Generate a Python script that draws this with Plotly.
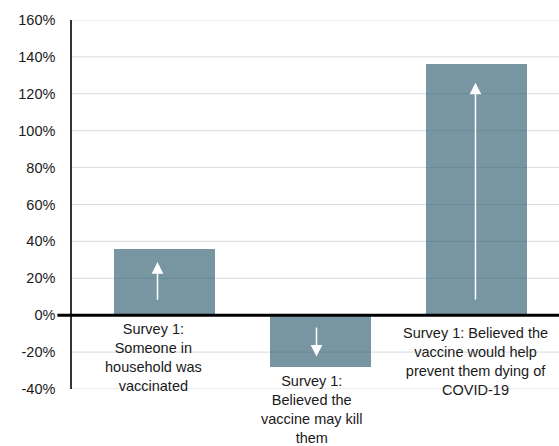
import plotly.graph_objects as go

# Change in likelihood of vaccine uptake by survey response
categories = [
    "Survey 1:<br>Someone in<br>household was<br>vaccinated",
    "Survey 1:<br>Believed the<br>vaccine may kill<br>them",
    "Survey 1: Believed the<br>vaccine would help<br>prevent them dying of<br>COVID-19",
]
values = [36, -28, 136]
tick_values = [-40, -20, 0, 20, 40, 60, 80, 100, 120, 140, 160]
tick_labels = [f"{v}%" for v in tick_values]

BAR = "#7896a2"
GRID = "rgba(60,95,115,0.22)"
FONT = "Liberation Sans, Arial, sans-serif"

x = list(range(len(values)))

fig = go.Figure(
    go.Bar(x=x, y=values, width=0.65, marker=dict(color=BAR, line_width=0),
           hoverinfo="skip")
)

shapes = []
# horizontal grid drawn over the bars
for v in tick_values:
    if v == 0:
        continue
    shapes.append(dict(type="line", xref="paper", x0=0, x1=1, yref="y", y0=v, y1=v,
                       line=dict(color=GRID, width=1), layer="above"))
# heavy zero baseline running past the axis
shapes.append(dict(type="line", xref="paper", x0=-0.03, x1=1, yref="y", y0=0, y1=0,
                   line=dict(color="#000000", width=3), layer="above"))

annotations = []
label_dx = [-11, -8, -1]
label_dy = [-4, -4, -8]
arrow_dx = [-7, -4, -1]
for i, v in enumerate(values):
    s = 1 if v > 0 else -1
    tail = s * min(0.21 * abs(v), 7.7)
    tip = v - s * min(max(0.2 * abs(v), 5.5), 10)
    annotations.append(dict(
        x=i, y=tip, ax=i, ay=tail, xref="x", yref="y", axref="x", ayref="y",
        text="", showarrow=True, arrowhead=2, arrowsize=1.55, arrowwidth=1.5,
        arrowcolor="#ffffff", xshift=arrow_dx[i]))
    # category label sits under the baseline, or under a negative bar
    base = min(v, 0)
    annotations.append(dict(
        x=i, y=base, xref="x", yref="y", text=categories[i], showarrow=False,
        yanchor="top", xanchor="center", align="center", yshift=label_dy[i],
        xshift=label_dx[i], font=dict(family=FONT, size=14.5, color="#1a1a1a")))

fig.update_layout(
    width=559, height=446,
    margin=dict(l=72, r=0, t=20, b=57),
    paper_bgcolor="#ffffff", plot_bgcolor="#ffffff",
    showlegend=False,
    bargap=0,
    shapes=shapes,
    annotations=annotations,
    xaxis=dict(range=[-0.593, 2.529], showticklabels=False, showgrid=False,
               zeroline=False, showline=False, fixedrange=True),
    yaxis=dict(range=[-40, 160], tickvals=tick_values, ticktext=tick_labels,
               showgrid=False, zeroline=False, showline=True, linecolor="#333333",
               linewidth=1.5, ticks="", ticklabelstandoff=12,
               tickfont=dict(family=FONT, size=14.5, color="#1a1a1a"),
               fixedrange=True),
)

fig.write_html("out.html", config={"displayModeBar": False})
